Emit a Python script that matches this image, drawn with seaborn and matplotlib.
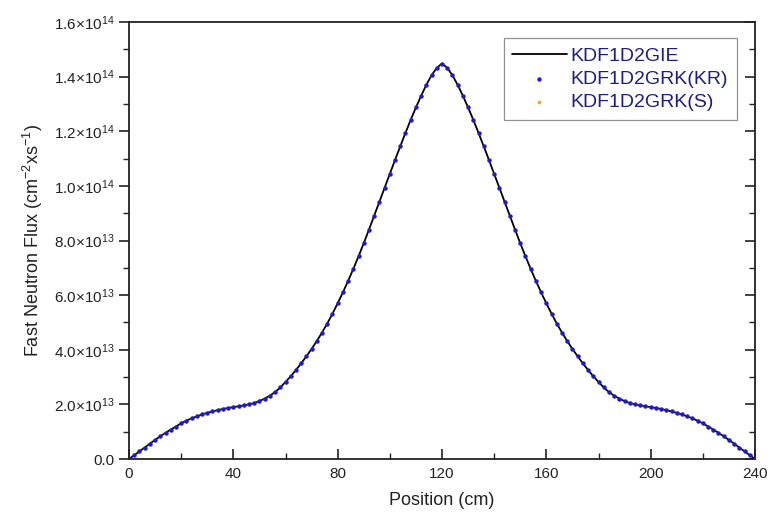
import numpy as np
import pandas as pd
import seaborn as sns
import matplotlib.pyplot as plt
from matplotlib.ticker import MultipleLocator, FuncFormatter

# position grid (cm) and fast flux (units of 1e13 cm^-2 s^-1)
position = list(range(0, 242, 2))
flux_e13 = [
    0.00, 0.14, 0.28, 0.42, 0.56, 0.70, 0.83, 0.96, 1.08, 1.19,
    1.31, 1.40, 1.49, 1.56, 1.63, 1.69, 1.74, 1.79, 1.83, 1.87,
    1.90, 1.93, 1.96, 2.00, 2.05, 2.12, 2.21, 2.32, 2.45, 2.62,
    2.82, 3.03, 3.26, 3.50, 3.76, 4.03, 4.32, 4.63, 4.96, 5.32,
    5.70, 6.10, 6.52, 6.96, 7.42, 7.90, 8.40, 8.91, 9.42, 9.93,
    10.44, 10.95, 11.45, 11.94, 12.42, 12.87, 13.30, 13.70, 14.05, 14.32,
    14.48,
    14.32, 14.05, 13.70, 13.30, 12.87, 12.42, 11.94, 11.45, 10.95, 10.44,
    9.93, 9.42, 8.91, 8.40, 7.90, 7.42, 6.96, 6.52, 6.10, 5.70,
    5.32, 4.96, 4.63, 4.32, 4.03, 3.76, 3.50, 3.26, 3.03, 2.82,
    2.62, 2.45, 2.32, 2.21, 2.12, 2.05, 2.00, 1.96, 1.93, 1.90,
    1.87, 1.83, 1.79, 1.74, 1.69, 1.63, 1.56, 1.49, 1.40, 1.31,
    1.19, 1.08, 0.96, 0.83, 0.70, 0.56, 0.42, 0.28, 0.14, 0.00,
]
series_names = ["KDF1D2GIE", "KDF1D2GRK(KR)", "KDF1D2GRK(S)"]

df = pd.DataFrame({"pos": position, "flux": np.array(flux_e13) * 1e13})

sns.set_style("ticks")
plt.rcParams["font.family"] = ["Liberation Sans", "DejaVu Sans"]
plt.rcParams["mathtext.fontset"] = "custom"
plt.rcParams["mathtext.rm"] = "Liberation Sans"
plt.rcParams["mathtext.it"] = "Liberation Sans"

fig = plt.figure(figsize=(7.79, 5.29), dpi=100)
ax = fig.add_axes([0.1656, 0.1323, 0.8036, 0.8261])

sns.lineplot(data=df, x="pos", y="flux", color="black", linewidth=1.3,
             label=series_names[0], ax=ax)
sns.scatterplot(data=df, x="pos", y="flux", color="#ff9a2e", s=7,
                linewidth=0, label=series_names[2], ax=ax, zorder=3)
sns.scatterplot(data=df, x="pos", y="flux", color="#1c1ccc", s=10,
                linewidth=0, label=series_names[1], ax=ax, zorder=4)

ax.set_xlim(0, 240)
ax.set_ylim(0, 1.6e14)
ax.xaxis.set_major_locator(MultipleLocator(40))
ax.xaxis.set_minor_locator(MultipleLocator(20))
ax.yaxis.set_major_locator(MultipleLocator(2e13))
ax.yaxis.set_minor_locator(MultipleLocator(1e13))


def sci(v, pos):
    if v == 0:
        return "0.0"
    e = int(np.floor(np.log10(abs(v))))
    m = v / 10 ** e
    return r"$%.1f{\times}10^{\mathregular{%d}}$" % (m, e)


ax.yaxis.set_major_formatter(FuncFormatter(sci))

for s in ax.spines.values():
    s.set_linewidth(1.3)
    s.set_color("#222222")

ax.tick_params(axis="x", which="both", direction="in", top=False,
               labelsize=11, colors="#222222", pad=6)
ax.tick_params(axis="x", which="major", length=7, width=1.2)
ax.tick_params(axis="x", which="minor", length=4, width=1.0)
ax.tick_params(axis="y", which="both", direction="out", labelsize=11,
               colors="#222222")
ax.tick_params(axis="y", which="major", length=7, width=1.2)
ax.tick_params(axis="y", which="minor", length=4, width=1.0)
ax.tick_params(axis="y", which="both", right=True)
# right side ticks point inward
for t in ax.yaxis.get_major_ticks() + ax.yaxis.get_minor_ticks():
    t.tick2line.set_marker(0)

ax.set_xlabel("Position (cm)", fontsize=13, color="#222222", labelpad=8)
ax.set_ylabel(r"Fast Neutron Flux (cm$^{-2}$xs$^{-1}$)", fontsize=13,
              color="#222222", labelpad=6)

handles, labels = ax.get_legend_handles_labels()
order = [labels.index(n) for n in series_names]
leg = ax.legend([handles[i] for i in order], [labels[i] for i in order],
                loc="upper right", bbox_to_anchor=(0.971, 0.963),
                borderaxespad=0, fontsize=14, frameon=True, fancybox=False,
                handlelength=2.8, handletextpad=0.2, borderpad=0.45,
                labelspacing=0.3, markerscale=1.0)
leg.get_frame().set_edgecolor("#777777")
leg.get_frame().set_linewidth(0.9)
for txt in leg.get_texts():
    txt.set_color("#1e1e80")

fig.savefig("out.png", dpi=100)
